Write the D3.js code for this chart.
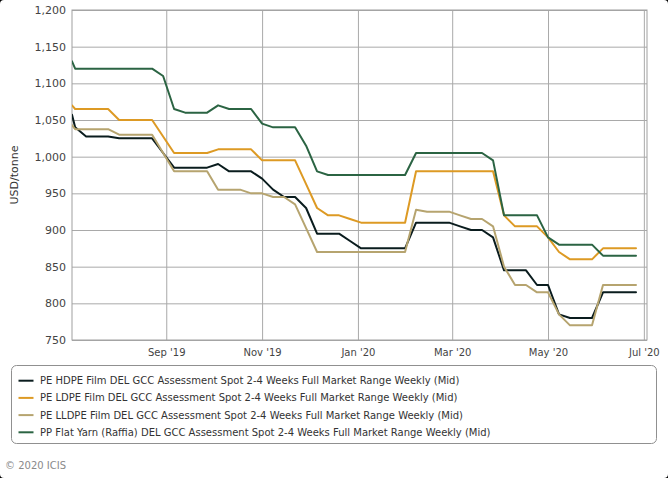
<!DOCTYPE html>
<html>
<head>
<meta charset="utf-8">
<script src="https://cdn.jsdelivr.net/npm/d3@7"></script>
<style>
  html, body { margin: 0; padding: 0; background: #000; }
  svg { display: block; }
</style>
</head>
<body>
<svg id="chart" width="668" height="478"></svg>
<script>
// ---------- data ----------
const dates = [
  "2019-07-03","2019-07-05","2019-07-12","2019-07-19","2019-07-26",
  "2019-08-02","2019-08-09","2019-08-16","2019-08-23","2019-08-30",
  "2019-09-06","2019-09-13","2019-09-20","2019-09-27",
  "2019-10-04","2019-10-11","2019-10-18","2019-10-25",
  "2019-11-01","2019-11-08","2019-11-15","2019-11-22","2019-11-29",
  "2019-12-06","2019-12-13","2019-12-20","2019-12-27",
  "2020-01-03","2020-01-10","2020-01-17","2020-01-24","2020-01-31",
  "2020-02-07","2020-02-14","2020-02-21","2020-02-28",
  "2020-03-06","2020-03-13","2020-03-20","2020-03-27",
  "2020-04-03","2020-04-10","2020-04-17","2020-04-24",
  "2020-05-01","2020-05-08","2020-05-15","2020-05-22","2020-05-29",
  "2020-06-05","2020-06-12","2020-06-19","2020-06-26"
];

const hdpeFilm = [
  1057,1040,1027.5,1027.5,1027.5,
  1025,1025,1025,1025,1005,
  985,985,985,985,
  990,980,980,980,
  970,955,945,945,930,
  895,895,895,885,
  875,875,875,875,875,
  910,910,910,910,
  905,900,900,890,
  845,845,845,825,
  825,785,780,780,780,
  815,815,815,815
];

const ldpeFilm = [
  1070,1065,1065,1065,1065,
  1050,1050,1050,1050,1027.5,
  1005,1005,1005,1005,
  1010,1010,1010,1010,
  995,995,995,995,962.5,
  930,920,920,915,
  910,910,910,910,910,
  980,980,980,980,
  980,980,980,980,
  920,905,905,905,
  890,870,860,860,860,
  875,875,875,875
];

const lldpeFilm = [
  1043,1037.5,1037.5,1037.5,1037.5,
  1030,1030,1030,1030,1005,
  980,980,980,980,
  955,955,955,950,
  950,945,945,935,902.5,
  870,870,870,870,
  870,870,870,870,870,
  927.5,925,925,925,
  920,915,915,905,
  850,825,825,815,
  815,785,770,770,770,
  825,825,825,825
];

const ppRaffia = [
  1130,1120,1120,1120,1120,
  1120,1120,1120,1120,1110,
  1065,1060,1060,1060,
  1070,1065,1065,1065,
  1045,1040,1040,1040,1015,
  980,975,975,975,
  975,975,975,975,975,
  1005,1005,1005,1005,
  1005,1005,1005,995,
  920,920,920,920,
  890,880,880,880,880,
  865,865,865,865
];

const seriesNames = [
  "PE HDPE Film DEL GCC Assessment Spot 2-4 Weeks Full Market Range Weekly (Mid)",
  "PE LDPE Film DEL GCC Assessment Spot 2-4 Weeks Full Market Range Weekly (Mid)",
  "PE LLDPE Film DEL GCC Assessment Spot 2-4 Weeks Full Market Range Weekly (Mid)",
  "PP Flat Yarn (Raffia) DEL GCC Assessment Spot 2-4 Weeks Full Market Range Weekly (Mid)"
];
const seriesColors = ["#0a1c1e", "#dd9a24", "#b6a46f", "#2b6443"];

const yTicks = [750, 800, 850, 900, 950, 1000, 1050, 1100, 1150, 1200];
const xTickDates = ["2019-09-01","2019-11-01","2020-01-01","2020-03-01","2020-05-01","2020-07-01"];
const xTickLabels = ["Sep '19","Nov '19","Jan '20","Mar '20","May '20","Jul '20"];
const xDomain = ["2019-07-03","2020-07-03"];
const yAxisTitle = "USD/tonne";
const credit = "\u00A9 2020 ICIS";

// ---------- chart ----------
const W = 668, H = 478;
const plot = { left: 72, right: 647, top: 10, bottom: 340 };
const parse = d3.utcParse("%Y-%m-%d");
const font = "'DejaVu Sans', Verdana, sans-serif";

const svg = d3.select("#chart");
svg.append("rect").attr("x", 0).attr("y", 0).attr("width", W).attr("height", H)
  .attr("rx", 4).attr("fill", "#fff");

const x = d3.scaleUtc().domain(xDomain.map(parse)).range([plot.left, plot.right]);
const y = d3.scaleLinear().domain([750, 1200]).range([plot.bottom, plot.top]);

// horizontal gridlines + y labels
const yAxis = d3.axisLeft(y).tickValues(yTicks)
  .tickSize(-(plot.right - plot.left)).tickPadding(6)
  .tickFormat(d3.format(","));
const gy = svg.append("g").attr("transform", `translate(${plot.left},0)`).call(yAxis);
gy.select(".domain").remove();
gy.selectAll(".tick line").attr("stroke", "#a9a9a9").attr("stroke-width", 1);
gy.selectAll(".tick text").attr("font-family", font).attr("font-size", 11)
  .attr("fill", "#444").attr("x", -6);

// vertical gridlines + x labels
const xAxis = d3.axisBottom(x).tickValues(xTickDates.map(parse))
  .tickSize(-(plot.bottom - plot.top)).tickPadding(9)
  .tickFormat((d, i) => xTickLabels[i]);
const gx = svg.append("g").attr("transform", `translate(0,${plot.bottom})`).call(xAxis);
gx.select(".domain").remove();
gx.selectAll(".tick line").attr("stroke", "#a9a9a9").attr("stroke-width", 1);
gx.selectAll(".tick text").attr("font-family", font).attr("font-size", 10)
  .attr("fill", "#444");

// plot border
svg.append("rect").attr("x", plot.left).attr("y", plot.top)
  .attr("width", plot.right - plot.left).attr("height", plot.bottom - plot.top)
  .attr("fill", "none").attr("stroke", "#a0a0a0").attr("stroke-width", 1);

// y title
svg.append("text")
  .attr("transform", `translate(18,${(plot.top + plot.bottom) / 2}) rotate(-90)`)
  .attr("text-anchor", "middle").attr("font-family", font).attr("font-size", 11)
  .attr("fill", "#333").text(yAxisTitle);

// lines
svg.append("clipPath").attr("id", "clip").append("rect")
  .attr("x", plot.left).attr("y", plot.top - 2)
  .attr("width", plot.right - plot.left).attr("height", plot.bottom - plot.top + 4);

const allSeries = [hdpeFilm, ldpeFilm, lldpeFilm, ppRaffia];
const line = d3.line().x(d => x(d.date)).y(d => y(d.value));
const gLines = svg.append("g").attr("clip-path", "url(#clip)");
allSeries.forEach((vals, si) => {
  const pts = vals.map((v, i) => ({ date: parse(dates[i]), value: v }));
  gLines.append("path").datum(pts).attr("d", line)
    .attr("fill", "none").attr("stroke", seriesColors[si])
    .attr("stroke-width", 2).attr("stroke-linejoin", "round").attr("stroke-linecap", "round");
});

// legend
const lg = svg.append("g");
lg.append("rect").attr("x", 11.5).attr("y", 365.5).attr("width", 645).attr("height", 78)
  .attr("rx", 5).attr("fill", "#fff").attr("stroke", "#909090").attr("stroke-width", 1);
seriesNames.forEach((name, i) => {
  const cy = 380.7 + i * 17.2;
  lg.append("line").attr("x1", 18.5).attr("x2", 33.5).attr("y1", cy).attr("y2", cy)
    .attr("stroke", seriesColors[i]).attr("stroke-width", 2);
  lg.append("text").attr("x", 40).attr("y", cy).attr("dy", "0.35em")
    .attr("font-family", font).attr("font-size", 10).attr("fill", "#333").text(name);
});

// credit
svg.append("text").attr("x", 5).attr("y", 465).attr("dy", "0.35em")
  .attr("font-family", font).attr("font-size", 10).attr("fill", "#8a8a8a").text(credit);
</script>
</body>
</html>
